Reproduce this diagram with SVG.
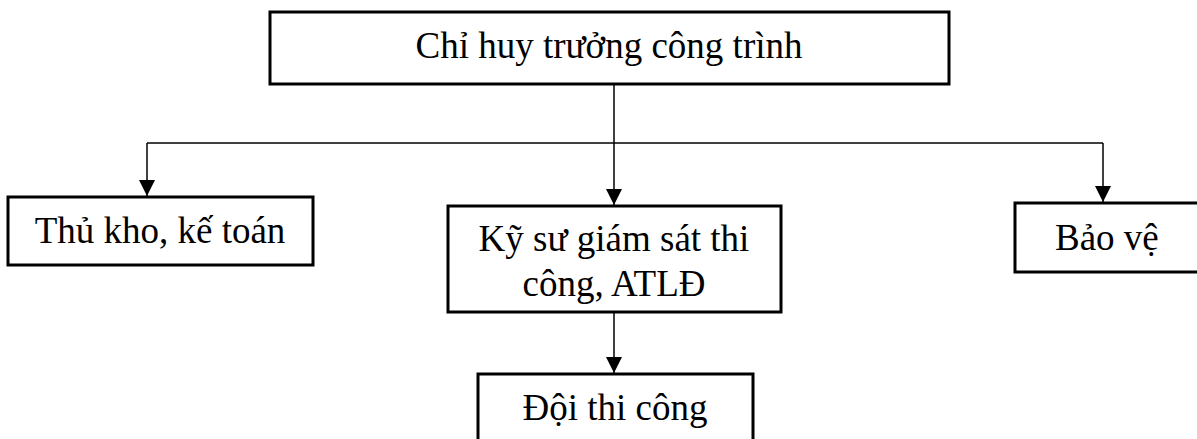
<svg xmlns="http://www.w3.org/2000/svg" width="1197" height="439" viewBox="0 0 1197 439">
<style>
.box{fill:#fff;stroke:#000;stroke-width:3}
.t{font-family:"Liberation Serif","Times New Roman",serif;font-size:37px;fill:#000}
.c{fill:none;stroke:#000;stroke-width:1.5}
</style>
<defs>
<marker id="ah" markerWidth="16" markerHeight="16" refX="16" refY="8" orient="auto" markerUnits="userSpaceOnUse">
<path d="M0,0 L16,8 L0,16 Z" fill="#000"/>
</marker>
</defs>
<rect width="1197" height="439" fill="#fff"/>
<g id="connectors">
<path class="c" d="M614,84 V143"/>
<path class="c" d="M147,143 H1103"/>
<path class="c" d="M147,143 V196" marker-end="url(#ah)"/>
<path class="c" d="M614,143 V205" marker-end="url(#ah)"/>
<path class="c" d="M1103,143 V202" marker-end="url(#ah)"/>
<path class="c" d="M614,312 V373" marker-end="url(#ah)"/>
</g>
<g id="n-chihuy">
<rect class="box" x="270" y="12" width="679" height="72"/>
<text class="t" x="609" y="58" text-anchor="middle">Chỉ huy trưởng công trình</text>
</g>
<g id="n-thukho">
<rect class="box" x="8" y="197" width="305" height="68"/>
<text class="t" x="160" y="243" text-anchor="middle">Thủ kho, kế toán</text>
</g>
<g id="n-kysu">
<rect class="box" x="448" y="206" width="333" height="106"/>
<text class="t" x="614" y="251" text-anchor="middle">Kỹ sư giám sát thi</text>
<text class="t" x="614" y="296" text-anchor="middle">công, ATLĐ</text>
</g>
<g id="n-baove">
<rect class="box" x="1015" y="203" width="200" height="69"/>
<text class="t" x="1055" y="250">Bảo vệ</text>
</g>
<g id="n-doi">
<rect class="box" x="478" y="374" width="275" height="80"/>
<text class="t" x="615" y="420" text-anchor="middle">Đội thi công</text>
</g>
</svg>
